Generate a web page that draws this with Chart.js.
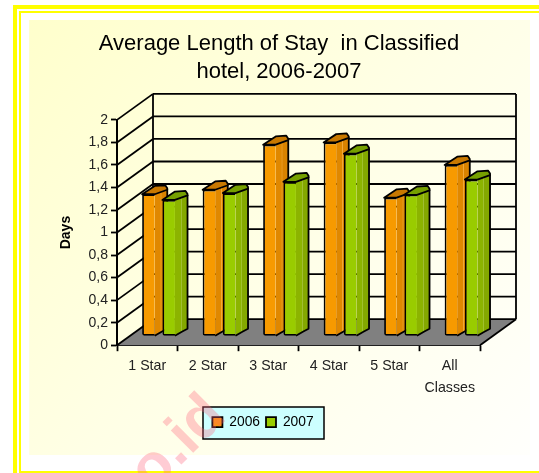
<!DOCTYPE html>
<html>
<head>
<meta charset="utf-8">
<title>Average Length of Stay</title>
<script src="https://cdn.jsdelivr.net/npm/chart.js@4"></script>
<style>
  html, body { margin: 0; padding: 0; background: #fff; }
  #wrap { width: 539px; height: 473px; position: relative; overflow: hidden; }
</style>
</head>
<body>
<div id="wrap"><canvas id="chart" width="539" height="473"></canvas></div>
<script>
const categories = ['1 Star', '2 Star', '3 Star', '4 Star', '5 Star', ['All', 'Classes']];
const values2006 = [1.26, 1.30, 1.70, 1.72, 1.23, 1.52];
const values2007 = [1.21, 1.27, 1.37, 1.62, 1.255, 1.39];
const yTickLabels = ['0', '0,2', '0,4', '0,6', '0,8', '1', '1,2', '1,4', '1,6', '1,8', '2'];
const seriesNames = ['2006', '2007'];
const titleLines = ['Average Length of Stay  in Classified', 'hotel, 2006-2007'];

const FONT = '"Liberation Sans", Arial, sans-serif';
// depth of the box and of the bars, in px
const BOX_DX = 36, BOX_DY = -26;
const BAR_SHIFT_X = 11.3, BAR_SHIFT_Y = -9;

const shades = [
  { side: '#e08800', side2: '#d98300', glint: '#f2a93a', top: '#c87800' },
  { side: '#8cb400', side2: '#84a800', glint: '#adc94a', top: '#76a000' }
];

function line(ctx, x1, y1, x2, y2) {
  ctx.beginPath();
  ctx.moveTo(x1, y1);
  ctx.lineTo(x2, y2);
  ctx.stroke();
}

// side and cap of one bar, taken from the bar element the library laid out
function drawBarDepth(ctx, bar, shade) {
  const w = bar.width;
  const L = bar.x - w / 2, R = bar.x + w / 2, t = bar.y, b = bar.base;
  const far = L + w * 2;
  const side = ctx.createLinearGradient(R, 0, far, 0);
  side.addColorStop(0, shade.side);
  side.addColorStop(0.45, shade.side);
  side.addColorStop(0.5, shade.glint);
  side.addColorStop(0.56, shade.side2);
  side.addColorStop(1, shade.side2);
  ctx.fillStyle = side;
  ctx.beginPath();
  ctx.moveTo(R, t);
  ctx.lineTo(far, t - 5);
  ctx.lineTo(far, b - 7);
  ctx.lineTo(R + w * 0.55, b - 4);
  ctx.lineTo(R, b);
  ctx.fill();
  // no closing stroke: the front runs into the side without an edge
  ctx.beginPath();
  ctx.moveTo(far, t - 5);
  ctx.lineTo(far, b - 7);
  ctx.lineTo(R + w * 0.55, b - 4);
  ctx.lineTo(R, b);
  ctx.stroke();
  ctx.fillStyle = shade.top;
  ctx.beginPath();
  ctx.moveTo(L, t);
  ctx.lineTo(L + w, t - 8.3);
  ctx.lineTo(far - 2, t - 9);
  ctx.lineTo(far, t - 6);
  ctx.lineTo(far, t - 4.5);
  ctx.lineTo(R, t);
  ctx.closePath();
  ctx.fill();
  ctx.stroke();
}

const framePlugin = {
  id: 'frame',
  afterLayout(chart) {
    // the title sits right of the legend's centre in the original
    chart.titleBlock.left += 32;
  },
  beforeDraw(chart) {
    const { ctx } = chart;
    ctx.save();
    ctx.fillStyle = '#fff';
    ctx.fillRect(0, 0, 539, 473);
    const g = ctx.createLinearGradient(29, 20, 530, 455);
    g.addColorStop(0, '#ffffcc');
    g.addColorStop(0.5, '#ffffe6');
    g.addColorStop(1, '#fffffc');
    ctx.fillStyle = g;
    ctx.fillRect(29, 20, 501, 435);
    ctx.fillStyle = '#ffff00';
    ctx.fillRect(13, 5, 526, 4);
    ctx.fillRect(13, 5, 4, 468);
    ctx.fillRect(19, 11, 520, 2);
    ctx.fillRect(19, 11, 2, 462);
    ctx.fillRect(19, 471, 520, 2);
    // legend frame, the legend draws its items on top
    ctx.fillStyle = '#ccffff';
    ctx.strokeStyle = '#000';
    ctx.lineWidth = 1.5;
    ctx.fillRect(203, 407, 121, 32);
    ctx.strokeRect(203, 407, 121, 32);
    ctx.restore();
  },
  beforeDatasetsDraw(chart) {
    const { ctx, chartArea: a, scales: { y } } = chart;
    ctx.save();
    // floor
    ctx.fillStyle = '#808080';
    ctx.beginPath();
    ctx.moveTo(a.left, a.bottom);
    ctx.lineTo(a.left + BOX_DX, a.bottom + BOX_DY);
    ctx.lineTo(a.right + BOX_DX, a.bottom + BOX_DY);
    ctx.lineTo(a.right, a.bottom);
    ctx.closePath();
    ctx.fill();
    // walls and grid
    ctx.strokeStyle = '#000';
    ctx.lineWidth = 1.8;
    y.ticks.forEach((t) => {
      const py = y.getPixelForValue(t.value);
      line(ctx, a.left, py, a.left + BOX_DX, py + BOX_DY);
      line(ctx, a.left + BOX_DX, py + BOX_DY, a.right + BOX_DX, py + BOX_DY);
    });
    line(ctx, a.left + BOX_DX, a.top + BOX_DY, a.left + BOX_DX, a.bottom + BOX_DY);
    line(ctx, a.right + BOX_DX, a.top + BOX_DY, a.right + BOX_DX, a.bottom + BOX_DY);
    line(ctx, a.right, a.bottom, a.right + BOX_DX, a.bottom + BOX_DY);
    ctx.restore();
    // bars sit inside the box, so everything of theirs is shifted back
    ctx.save();
    ctx.translate(BAR_SHIFT_X, BAR_SHIFT_Y);
    ctx.strokeStyle = '#000';
    ctx.lineWidth = 1.8;
    ctx.lineJoin = 'round';
    // orange first: the green front then covers the orange side
    [0, 1].forEach((i) => {
      chart.getDatasetMeta(i).data.forEach((bar) => drawBarDepth(ctx, bar, shades[i]));
    });
  },
  afterDatasetsDraw(chart) {
    chart.ctx.restore();
  },
  afterDraw(chart) {
    const { ctx } = chart;
    ctx.save();
    ctx.globalAlpha = 0.32;
    ctx.fillStyle = '#ff5f78';
    ctx.font = 'bold 60px ' + FONT;
    ctx.translate(115, 507.6);
    ctx.rotate(-Math.PI / 4);
    ctx.fillText('go.id', 0, 0);
    ctx.restore();
  }
};

new Chart(document.getElementById('chart'), {
  type: 'bar',
  data: {
    labels: categories,
    datasets: [
      { label: seriesNames[0], data: values2006, backgroundColor: '#f79a00', borderColor: '#000', borderWidth: 1.8, borderSkipped: 'right', borderRadius: { bottomLeft: 2 }, clip: false },
      { label: seriesNames[1], data: values2007, backgroundColor: '#99cc00', borderColor: '#000', borderWidth: 1.8, borderSkipped: 'right', borderRadius: { bottomLeft: 2 }, clip: false }
    ]
  },
  options: {
    responsive: false,
    animation: false,
    categoryPercentage: 0.67,
    barPercentage: 0.62,
    layout: { padding: { left: 46, right: 59, top: 30, bottom: 34 } },
    plugins: {
      tooltip: { enabled: false },
      title: {
        display: true,
        text: titleLines,
        color: '#000',
        font: { family: FONT, size: 22, weight: 'normal', lineHeight: 1.27 },
        padding: { top: 0, bottom: 34 }
      },
      legend: {
        position: 'bottom',
        labels: { color: '#000', font: { family: FONT, size: 13.8 }, boxWidth: 10, boxHeight: 10, padding: 6 }
      }
    },
    scales: {
      x: {
        grid: { drawOnChartArea: false, offset: true, color: '#000', tickColor: '#000', tickWidth: 1.8, tickLength: 6 },
        border: { color: '#000', width: 2 },
        afterFit(scale) { scale.height = 64; },
        ticks: { color: '#222', font: { family: FONT, size: 14.2, lineHeight: 1.55 }, padding: 4, maxRotation: 0, autoSkip: false }
      },
      y: {
        min: 0,
        max: 2,
        title: { display: true, text: 'Days', color: '#000', font: { family: FONT, size: 14, weight: 'bold' }, padding: { top: 12, bottom: 0 } },
        grid: { drawOnChartArea: false, color: '#000', tickColor: '#000', tickWidth: 1.8, tickLength: 6 },
        border: { color: '#000', width: 2 },
        afterFit(scale) { scale.width = 71; },
        ticks: {
          stepSize: 0.2,
          color: '#222',
          padding: 3,
          font: { family: FONT, size: 14 },
          callback: (v, i) => yTickLabels[i]
        }
      }
    }
  },
  plugins: [framePlugin]
});
</script>
</body>
</html>
